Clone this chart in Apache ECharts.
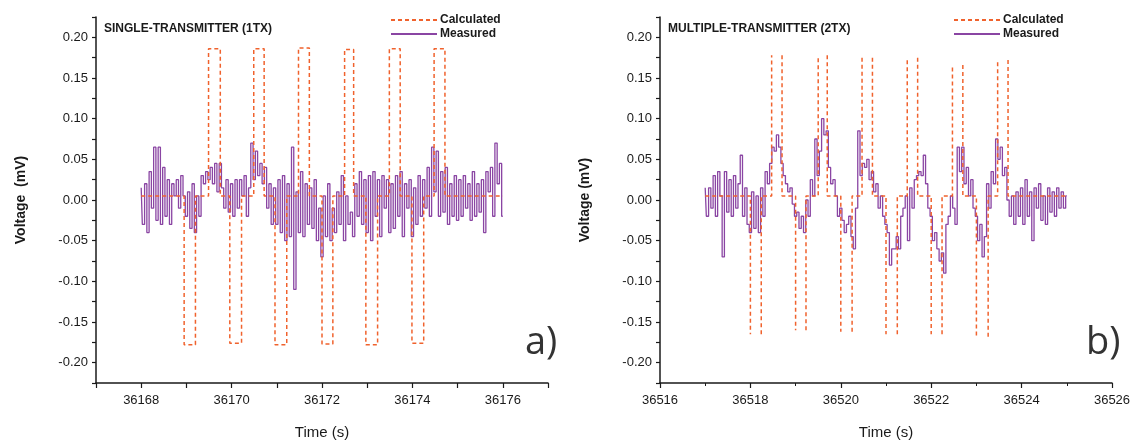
<!DOCTYPE html>
<html>
<head>
<meta charset="utf-8">
<script src="https://cdn.jsdelivr.net/npm/echarts@6/dist/echarts.min.js"></script>
<style>
  html, body { margin: 0; background: #fff; }
  #chart { width: 1139px; height: 440px; }
</style>
</head>
<body>
<div id="chart"></div>
<script>
// sample spacing of the measured traces (s)
const sampleStep = 0.05

// ---- panel a) single transmitter ----
const leftStart = 36168
const leftMeasured = [
  0.015, -0.03, 0.02, -0.04, 0.035, -0.01, 0.065, -0.025, 0.065, -0.03,
  0.04, -0.02, 0.025, -0.03, 0.02, 0.005, 0.025, -0.01, 0.03, 0.005,
  -0.02, 0.01, -0.035, 0.02, -0.04, 0.005, -0.02, 0.03, 0.02, 0.035,
  0.025, 0.04, 0.02, 0.045, 0.01, 0.045, 0.015, -0.01, 0.025, -0.015,
  0.02, -0.02, 0.025, -0.01, 0.025, 0.005, 0.03, -0.02, 0.015, 0.07,
  0.025, 0.06, 0.03, 0.045, 0.02, 0.04, -0.01, 0.02, -0.03, 0.015,
  -0.03, 0.025, -0.04, 0.03, -0.05, 0.02, -0.045, 0.065, -0.11, 0.01,
  -0.04, 0.035, -0.045, 0.02, -0.03, 0.015, -0.035, 0.025, -0.05, -0.01,
  -0.07, 0.005, -0.045, 0.02, -0.05, -0.01, -0.04, 0.01, -0.03, 0.03,
  -0.05, 0.005, -0.03, -0.015, -0.045, 0.02, -0.02, 0.035, -0.03, 0.025,
  -0.04, 0.03, -0.05, 0.035, -0.02, 0.025, -0.045, 0.03, -0.01, 0.025,
  -0.04, 0.02, -0.035, 0.03, -0.02, 0.035, -0.045, 0.02, -0.01, 0.025,
  -0.045, 0.015, -0.03, 0.03, -0.02, 0.025, -0.01, 0.04, -0.02, 0.065,
  0.01, 0.06, -0.02, 0.035, -0.015, 0.04, -0.03, 0.02, -0.02, 0.03,
  -0.025, 0.025, -0.02, 0.03, -0.01, 0.02, -0.025, 0.035, -0.02, 0.02,
  -0.015, 0.025, -0.04, 0.035, 0.01, 0.04, -0.02, 0.07, 0.02, 0.045,
  -0.02
]
const leftBase = 0.005
const leftSpan = [36168, 36176]
const leftLowStart = [36168.95, 36169.96, 36170.96, 36172.0, 36172.97, 36173.99]
const leftLowEnd = [36169.2, 36170.22, 36171.22, 36172.24, 36173.23, 36174.25]
const leftLow = [-0.178, -0.176, -0.178, -0.177, -0.178, -0.176]
const leftHighStart = [36169.49, 36170.49, 36171.48, 36172.5, 36173.49, 36174.48]
const leftHighEnd = [36169.75, 36170.72, 36171.72, 36172.7, 36173.73, 36174.72]
const leftHigh = [0.186, 0.186, 0.187, 0.185, 0.186, 0.186]

// ---- panel b) multiple transmitter ----
const rightStart = 36517
const rightMeasured = [
  0.015, -0.02, 0.015, -0.01, 0.03, -0.02, 0.035, 0.005, -0.07, 0.035,
  -0.015, 0.025, -0.02, 0.03, -0.01, 0.02, 0.055, -0.02, 0.015, -0.03,
  -0.04, 0.01, -0.035, 0.005, -0.04, 0.015, -0.02, 0.035, 0.02, 0.045,
  0.065, 0.06, 0.08, 0.065, 0.045, 0.03, 0.02, 0.01, 0.015, -0.005,
  -0.02, -0.015, -0.035, -0.02, -0.04, 0.0, -0.02, 0.025, 0.005, 0.075,
  0.03, 0.06, 0.1, 0.08, 0.085, 0.04, 0.02, 0.025, 0.005, -0.02,
  -0.01, -0.025, -0.04, -0.03, -0.02, -0.045, -0.06, -0.01, 0.085, 0.03,
  0.045, 0.04, 0.05, 0.025, 0.035, 0.01, 0.02, -0.01, 0.005, -0.02,
  -0.03, -0.04, -0.08, -0.06, -0.06, -0.045, -0.06, -0.02, -0.01, 0.005,
  -0.05, 0.015, -0.01, 0.025, 0.03, 0.035, 0.03, 0.055, 0.02, -0.01,
  -0.02, -0.05, -0.04, -0.06, -0.075, -0.065, -0.09, -0.03, -0.02, 0.005,
  -0.01, -0.03, 0.065, 0.035, 0.065, 0.02, 0.04, 0.005, 0.025, -0.01,
  -0.02, -0.05, -0.03, -0.07, -0.045, 0.02, -0.01, 0.035, 0.02, 0.075,
  0.05, 0.065, 0.03, 0.04, 0.0, -0.02, 0.005, -0.03, 0.01, -0.02,
  0.015, -0.03, 0.025, -0.02, 0.01, -0.05, 0.015, -0.01, 0.02, -0.025,
  0.005, -0.03, 0.015, -0.015, 0.01, -0.02, 0.015, -0.01, 0.01, -0.01,
  0.005
]
const rightBase = 0.005
const rightSpan = [36517, 36525]
const rightLowStart = [36518.0, 36519.0, 36520.0, 36521.0, 36522.0, 36523.0]
const rightLowEnd = [36518.24, 36519.23, 36520.25, 36521.25, 36522.24, 36523.26]
const rightLow = [-0.165, -0.16, -0.162, -0.165, -0.165, -0.168]
const rightHighStart = [36518.47, 36519.5, 36520.47, 36521.47, 36522.47, 36523.47]
const rightHighEnd = [36518.7, 36519.7, 36520.7, 36521.7, 36522.7, 36523.7]
const rightHigh = [0.178, 0.178, 0.175, 0.175, 0.166, 0.172]

const calcColor = '#f0622d'
const measColor = '#8a45a3'
const axisColor = '#1a1a1a'
const font = 'Liberation Sans, Arial, sans-serif'

function measuredPoints(start, values) {
  return values.map((v, i) => [+(start + i * sampleStep).toFixed(2), v])
}

// square pulses; with openTops the flat top/bottom is left out (gap)
function calculatedPoints(span, base, lowS, lowE, low, highS, highE, high, openTops) {
  const pts = [[span[0], base]]
  for (let k = 0; k < lowS.length; k++) {
    pts.push([lowS[k], base], [lowS[k], low[k]])
    if (openTops) pts.push([lowS[k], '-'])
    pts.push([lowE[k], low[k]], [lowE[k], base])
    pts.push([highS[k], base], [highS[k], high[k]])
    if (openTops) pts.push([highS[k], '-'])
    pts.push([highE[k], high[k]], [highE[k], base])
  }
  pts.push([span[1], base])
  return pts
}

function xAxis(gridIndex, min, max, interval, evenOnly) {
  return {
    type: 'value', gridIndex, min, max, interval,
    name: 'Time (s)', nameLocation: 'middle', nameGap: 42,
    nameTextStyle: { fontSize: 15, color: axisColor, fontFamily: font },
    axisLine: { onZero: false, lineStyle: { color: axisColor, width: 1.5 } },
    axisTick: { length: 5, lineStyle: { color: axisColor, width: 1.2 } },
    minorTick: { show: !evenOnly, splitNumber: 2, length: 3, lineStyle: { color: axisColor } },
    splitLine: { show: false },
    axisLabel: {
      fontSize: 13, color: axisColor, fontFamily: font, margin: 11,
      formatter: v => (evenOnly && v % 2 !== 0) ? '' : String(v),
    },
  }
}

function yAxis(gridIndex, name) {
  return {
    type: 'value', gridIndex, min: -0.225, max: 0.225, interval: 0.025,
    name, nameLocation: 'middle', nameGap: 68,
    nameTextStyle: { fontSize: 14, fontWeight: 'bold', color: axisColor, fontFamily: font },
    axisLine: { show: true, onZero: false, lineStyle: { color: axisColor, width: 1.5 } },
    axisTick: { show: true, length: 4, lineStyle: { color: axisColor, width: 1.2 } },
    splitLine: { show: false },
    axisLabel: {
      fontSize: 13, color: axisColor, fontFamily: font, margin: 8,
      formatter: v => Math.round(v * 1000) % 50 === 0 ? v.toFixed(2) : '',
    },
  }
}

function calcSeries(idx, data) {
  return {
    name: 'Calculated', type: 'line', xAxisIndex: idx, yAxisIndex: idx,
    data, symbol: 'none', connectNulls: false, z: 3,
    lineStyle: { color: calcColor, width: 1.5, type: [4, 3] },
    itemStyle: { color: calcColor },
  }
}

function measSeries(idx, data) {
  return {
    name: 'Measured', type: 'line', xAxisIndex: idx, yAxisIndex: idx,
    data, symbol: 'none', step: 'middle', z: 2,
    lineStyle: { color: measColor, width: 1.3 },
    itemStyle: { color: measColor },
  }
}

function legend(left) {
  return {
    left, top: 9, orient: 'vertical', itemWidth: 46, itemHeight: 10, itemGap: 2,
    data: ['Calculated', 'Measured'],
    itemStyle: { opacity: 0 },
    textStyle: { fontSize: 12, fontWeight: 'bold', color: axisColor, fontFamily: font, padding: [0, 0, 0, -2] },
  }
}

const chart = echarts.init(document.getElementById('chart'))
chart.setOption({
  animation: false,
  backgroundColor: '#fff',
  title: [
    { text: 'SINGLE-TRANSMITTER (1TX)', left: 99, top: 18,
      textStyle: { fontSize: 12, fontWeight: 'bold', color: axisColor, fontFamily: font } },
    { text: 'MULTIPLE-TRANSMITTER (2TX)', left: 663, top: 18,
      textStyle: { fontSize: 12, fontWeight: 'bold', color: axisColor, fontFamily: font } },
  ],
  legend: [legend(385), legend(948)],
  grid: [
    { left: 96, top: 17, width: 452, height: 366, outerBoundsMode: 'none' },
    { left: 660, top: 17, width: 452, height: 366, outerBoundsMode: 'none' },
  ],
  xAxis: [
    xAxis(0, 36167, 36177, 1, true),
    xAxis(1, 36516, 36526, 2, false),
  ],
  yAxis: [
    yAxis(0, 'Voltage  (mV)'),
    yAxis(1, 'Voltage (mV)'),
  ],
  graphic: [
    { type: 'text', left: 525, top: 324, style: { text: 'a)', fontSize: 38, fontFamily: 'Open Sans', fill: '#333' } },
    { type: 'text', left: 1086, top: 324, style: { text: 'b)', fontSize: 38, fontFamily: 'Open Sans', fill: '#333' } },
  ],
  series: [
    measSeries(0, measuredPoints(leftStart, leftMeasured)),
    calcSeries(0, calculatedPoints(leftSpan, leftBase, leftLowStart, leftLowEnd, leftLow,
      leftHighStart, leftHighEnd, leftHigh, false)),
    measSeries(1, measuredPoints(rightStart, rightMeasured)),
    calcSeries(1, calculatedPoints(rightSpan, rightBase, rightLowStart, rightLowEnd, rightLow,
      rightHighStart, rightHighEnd, rightHigh, true)),
  ],
})

window.addEventListener('resize', () => chart.resize())
</script>
</body>
</html>
